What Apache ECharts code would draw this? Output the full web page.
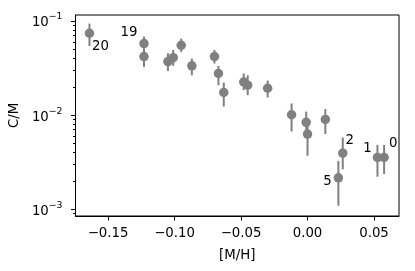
<!DOCTYPE html>
<html><head><meta charset="utf-8">
<script src="https://cdn.jsdelivr.net/npm/echarts@6/dist/echarts.min.js"></script>
<style>html,body{margin:0;padding:0;background:#fff}#c{width:415px;height:271px}</style>
</head><body><div id="c"></div>
<script>
// ---- data ----
const metallicity = [-0.164, -0.123, -0.123, -0.105, -0.101, -0.095, -0.087, -0.070, -0.067, -0.063, -0.048, -0.045, -0.030, -0.012, -0.001, 0.000, 0.0134, 0.0265, 0.0232, 0.0526, 0.0576];
const cmValue    = [0.0741, 0.0576, 0.0419, 0.0371, 0.0408, 0.0552, 0.0334, 0.0419, 0.0277, 0.0174, 0.0225, 0.0208, 0.0193, 0.0101, 0.0084, 0.0063, 0.0090, 0.00395, 0.00216, 0.00356, 0.00356];
const cmLow      = [0.0543, 0.0495, 0.0325, 0.0294, 0.0334, 0.0469, 0.0265, 0.0353, 0.0208, 0.01236, 0.0184, 0.0163, 0.0154, 0.0067, 0.0064, 0.0037, 0.0063, 0.00266, 0.00109, 0.00222, 0.00237];
const cmHigh     = [0.0938, 0.0684, 0.0530, 0.0455, 0.0493, 0.0650, 0.0399, 0.0493, 0.0334, 0.0222, 0.0277, 0.0265, 0.0233, 0.0133, 0.0109, 0.0085, 0.0116, 0.0058, 0.00327, 0.00484, 0.00484];
const pointLabels = ['20', '19', '', '', '', '', '', '', '', '', '', '', '', '', '', '', '', '2', '5', '1', '0'];
const xTickValues = [-0.15, -0.10, -0.05, 0.00, 0.05];
const yMajorTicks = [0.001, 0.01, 0.1];
const yMinorTicks = [0.0009, 0.002, 0.003, 0.004, 0.005, 0.006, 0.007, 0.008, 0.009, 0.02, 0.03, 0.04, 0.05, 0.06, 0.07, 0.08, 0.09];
const xAxisName = '[M/H]';
const yAxisName = 'C/M';

// ---- styling / layout ----
const FONT = 'DejaVu Sans';
const GREY = '#808080';
const labelOffsets = { '20': [11, 13], '19': [-15, -11], '2': [7, -13], '5': [-11, 4], '1': [-10, -9], '0': [9, -13.5] };
const xMin = -0.1745, xMax = 0.0688, yMin = 8.49e-4, yMax = 0.1158;

const chart = echarts.init(document.getElementById('c'), null, { renderer: 'canvas' });

const scatterData = metallicity.map((x, i) => {
  const lbl = pointLabels[i];
  const item = { value: [x, cmValue[i]] };
  if (lbl) {
    item.label = { show: true, formatter: lbl, position: 'inside', offset: labelOffsets[lbl], color: '#000', fontSize: 13.3, fontFamily: FONT, align: 'center', verticalAlign: 'middle' };
  }
  return item;
});
const errData = metallicity.map((x, i) => [x, cmLow[i], cmHigh[i]]);

const axisLineStyle = { color: '#000', width: 1 };

const option = {
  animation: false,
  backgroundColor: '#fff',
  grid: { left: 75, right: 16, top: 15, bottom: 55, show: true, borderColor: '#000', borderWidth: 1, backgroundColor: 'transparent' },
  xAxis: {
    type: 'value', min: xMin, max: xMax, position: 'bottom',
    axisLine: { show: true, onZero: false, lineStyle: axisLineStyle },
    axisTick: { show: true, length: 4.5, lineStyle: { color: '#000', width: 1 }, customValues: xTickValues },
    axisLabel: {
      customValues: xTickValues, color: '#000', fontSize: 13.3, fontFamily: FONT, margin: 11,
      formatter: v => (v < -1e-9 ? '\u2212' : '') + Math.abs(v).toFixed(2)
    },
    splitLine: { show: false },
    name: xAxisName, nameLocation: 'middle', nameGap: 33,
    nameTextStyle: { color: '#000', fontSize: 13.3, fontFamily: FONT }
  },
  yAxis: [
    {
      type: 'log', logBase: 10, min: yMin, max: yMax, position: 'left',
      axisLine: { show: true, onZero: false, lineStyle: axisLineStyle },
      axisTick: { show: true, length: 4.5, lineStyle: { color: '#000', width: 1 }, customValues: yMajorTicks },
      axisLabel: {
        customValues: yMajorTicks, margin: 13,
        formatter: v => '{b|10}{s|\u2212' + Math.abs(Math.round(Math.log10(v))) + '}',
        rich: {
          b: { color: '#000', fontSize: 13.3, fontFamily: FONT, verticalAlign: 'bottom' },
          s: { color: '#000', fontSize: 9.3, fontFamily: FONT, verticalAlign: 'bottom', padding: [0, 0, 8, 0] }
        }
      },
      splitLine: { show: false },
      minorTick: { show: false },
      name: yAxisName, nameLocation: 'middle', nameGap: 52,
      nameTextStyle: { color: '#000', fontSize: 13.3, fontFamily: FONT }
    },
    {
      type: 'log', logBase: 10, min: yMin, max: yMax, position: 'left', offset: 0,
      axisLine: { show: false, onZero: false },
      axisTick: { show: true, length: 2.5, lineStyle: { color: '#000', width: 1 }, customValues: yMinorTicks },
      axisLabel: { show: false },
      splitLine: { show: false }
    }
  ],
  series: [
    {
      type: 'custom', name: 'err', xAxisIndex: 0, yAxisIndex: 0,
      data: errData, encode: { x: 0, y: [1, 2] }, z: 2, silent: true,
      renderItem: (params, api) => {
        const x = api.value(0);
        const p1 = api.coord([x, api.value(1)]);
        const p2 = api.coord([x, api.value(2)]);
        return { type: 'line', shape: { x1: p1[0], y1: p1[1], x2: p2[0], y2: p2[1] }, style: { stroke: GREY, lineWidth: 2 } };
      }
    },
    {
      type: 'scatter', name: 'C/M', xAxisIndex: 0, yAxisIndex: 0,
      data: scatterData, symbol: 'circle', symbolSize: 9.5, z: 3,
      itemStyle: { color: GREY, opacity: 1 },
      label: { show: false },
      emphasis: { disabled: true }
    }
  ]
};
chart.setOption(option);
</script>
</body></html>
